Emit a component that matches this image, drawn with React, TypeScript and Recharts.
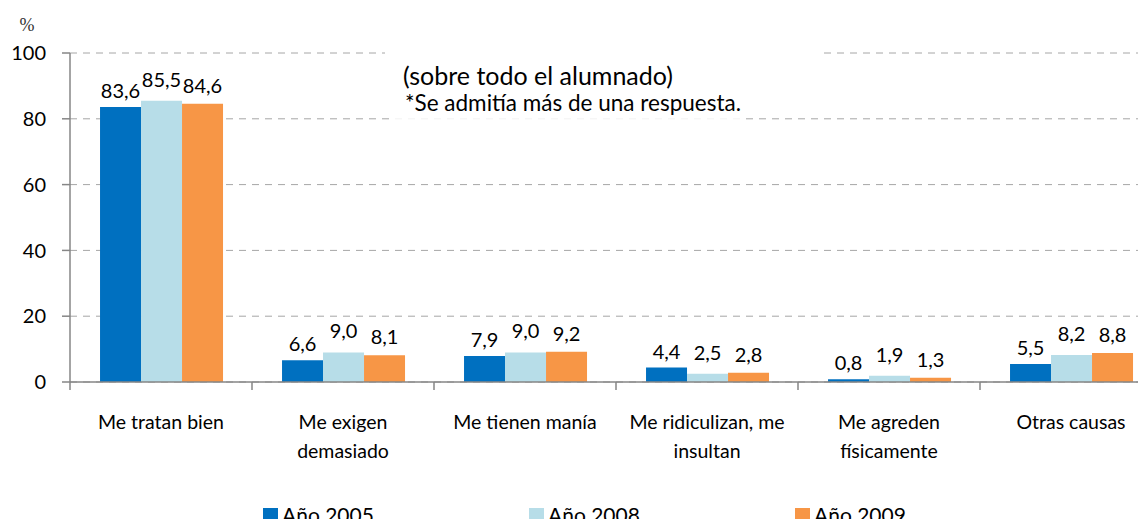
import { BarChart, Bar, XAxis, YAxis, CartesianGrid, LabelList, Legend, Customized } from "recharts";

const categories = [
  "Me tratan bien",
  "Me exigen\ndemasiado",
  "Me tienen manía",
  "Me ridiculizan, me\ninsultan",
  "Me agreden\nfísicamente",
  "Otras causas",
];
const year2005 = [83.6, 6.6, 7.9, 4.4, 0.8, 5.5];
const year2008 = [85.5, 9.0, 9.0, 2.5, 1.9, 8.2];
const year2009 = [84.6, 8.1, 9.2, 2.8, 1.3, 8.8];
const yTicks = [0, 20, 40, 60, 80, 100];
const seriesNames = ["Año 2005", "Año 2008", "Año 2009"];
const noteLines = ["(sobre todo el alumnado)", "*Se admitía más de una respuesta."];

const COLORS = ["#0070C0", "#B7DDE8", "#F79646"];
const LABEL_OFFSETS = [9, 14, 11];
const FONT = "Lato, 'Open Sans', sans-serif";
const AXIS = "#868686";

const data = categories.map((c, i) => ({
  name: c,
  a: year2005[i],
  b: year2008[i],
  c: year2009[i],
}));

const fmt = (v: number) => v.toFixed(1).replace(".", ",");

function CategoryTick(props: any) {
  const { x, y, payload, width } = props;
  const half = payload?.offset || (width ? width / categories.length / 2 : 91);
  const lines = String(payload.value).split("\n");
  return (
    <g>
      <line x1={x - half} x2={x - half} y1={y - 8} y2={y} stroke={AXIS} strokeWidth={1.5} />
      <text x={x} y={y + 39} textAnchor="middle" fontFamily={FONT} fontSize={19.5} fill="#000">
        {lines.map((l, i) => (
          <tspan key={i} x={x} dy={i === 0 ? 0 : 29}>
            {l}
          </tspan>
        ))}
      </text>
    </g>
  );
}

function Note() {
  return (
    <g>
      <rect x={385} y={44} width={437} height={18} fill="#fff" />
      <rect x={390} y={110} width={355} height={16} fill="#fff" fillOpacity={0.85} />
      <text x={403} y={85} fontFamily={FONT} fontSize={25} fill="#000">
        {noteLines[0]}
      </text>
      <text x={405} y={111} fontFamily={FONT} fontSize={22.5} fill="#000">
        {noteLines[1]}
      </text>
      <text x={27} y={31} textAnchor="middle" fontFamily="'Liberation Serif', serif" fontSize={18} fill="#333">
        %
      </text>
    </g>
  );
}

function LegendBox() {
  return (
    <div style={{ display: "flex", height: 24, lineHeight: "24px", paddingLeft: 263, fontFamily: FONT, fontSize: 21, color: "#000" }}>
      {seriesNames.map((n, i) => (
        <div key={n} style={{ width: 266, display: "flex", alignItems: "center" }}>
          <span style={{ display: "inline-block", width: 15, height: 15, background: COLORS[i], marginRight: 4 }} />
          {n}
        </div>
      ))}
    </div>
  );
}

export default function App() {
  const keys = ["a", "b", "c"];
  return (
    <div style={{ margin: -8, width: 1146, height: 527, overflow: "hidden", background: "#fff" }}>
      <BarChart
        width={1162}
        height={527}
        data={data}
        margin={{ top: 53, right: 0, left: 0, bottom: 0 }}
        barCategoryGap="16.5%"
        barGap={0}
      >
        <CartesianGrid vertical={false} stroke="#A6A6A6" strokeDasharray="7 6" />
        <XAxis
          dataKey="name"
          height={121}
          axisLine={{ stroke: AXIS, strokeWidth: 1.5 }}
          tickLine={false}
          tickSize={8}
          tickMargin={0}
          interval={0}
          tick={<CategoryTick />}
        />
        <YAxis
          width={70}
          domain={[0, 100]}
          ticks={yTicks}
          axisLine={{ stroke: AXIS, strokeWidth: 1.5 }}
          tickLine={{ stroke: AXIS, strokeWidth: 1.5 }}
          tickSize={8}
          tickMargin={16}
          tick={{ fontFamily: FONT, fontSize: 20, fill: "#000" }}
        />
        <Legend verticalAlign="bottom" content={() => <LegendBox />} wrapperStyle={{ left: 0, width: 1162 }} />
        {keys.map((k, i) => (
          <Bar key={k} dataKey={k} name={seriesNames[i]} fill={COLORS[i]} isAnimationActive={false}>
            <LabelList
              dataKey={k}
              position="top"
              offset={LABEL_OFFSETS[i]}
              formatter={(v: any) => fmt(Number(v))}
              style={{ fontFamily: FONT, fontSize: 20, fill: "#000" }}
            />
          </Bar>
        ))}
        <Customized component={Note} />
      </BarChart>
    </div>
  );
}
